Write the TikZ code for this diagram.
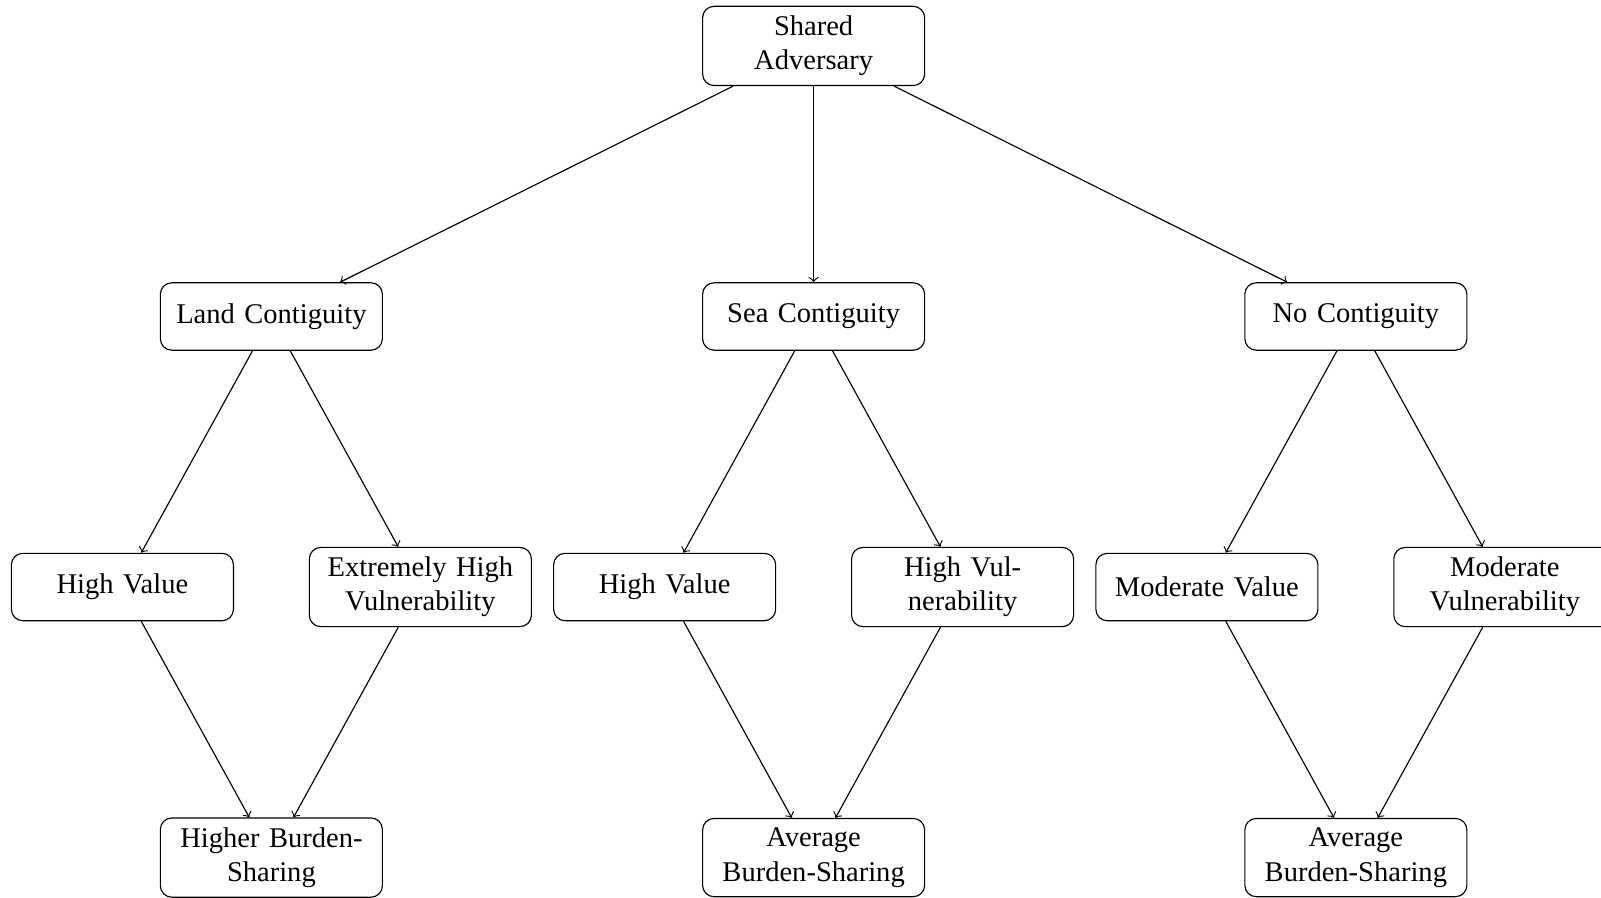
\documentclass[tikz,border=0pt]{standalone}
\usepackage{fontspec}
\setmainfont{Liberation Serif}
\usepackage{tikz}
\usetikzlibrary{shapes,positioning,trees}

\tikzset{
  factor/.style={draw, rounded corners, text width=2.5cm, align=center, minimum height=0.83cm}
}

\begin{document}
\begin{tikzpicture}[level distance=94.8pt, ->,
  every node/.style={factor},
  level 1/.style={sibling distance=190pt},
  level 2/.style={sibling distance=104.4pt}]
    \useasboundingbox (-285.1pt,16.1pt) rectangle (275.9pt,-298.5pt);
    \node (sa) {Shared\\Adversary}
      child {node (land) {Land Contiguity}
        child {node (landval) {High Value}}
        child {node (landvul) {Extremely High Vulnerability}}
      }
      child {node (sea) {Sea Contiguity}
        child {node (seaval) {High Value}}
        child {node (seavul) {High Vulnerability}}
      }
      child {node (nocont) {No Contiguity}
        child {node (noval) {Moderate Value}}
        child {node (novul) {Moderate Vulnerability}}
      };
    % outcomes, two levels below each contiguity
    \node (landres) at ([yshift=-189.6pt]land) {Higher Burden-Sharing};
    \node (seares) at ([yshift=-189.6pt]sea) {Average Burden-Sharing};
    \node (nores) at ([yshift=-189.6pt]nocont) {Average Burden-Sharing};
    \draw (landval) -- (landres);
    \draw (landvul) -- (landres);
    \draw (seaval) -- (seares);
    \draw (seavul) -- (seares);
    \draw (noval) -- (nores);
    \draw (novul) -- (nores);
  \end{tikzpicture}
\end{document}
